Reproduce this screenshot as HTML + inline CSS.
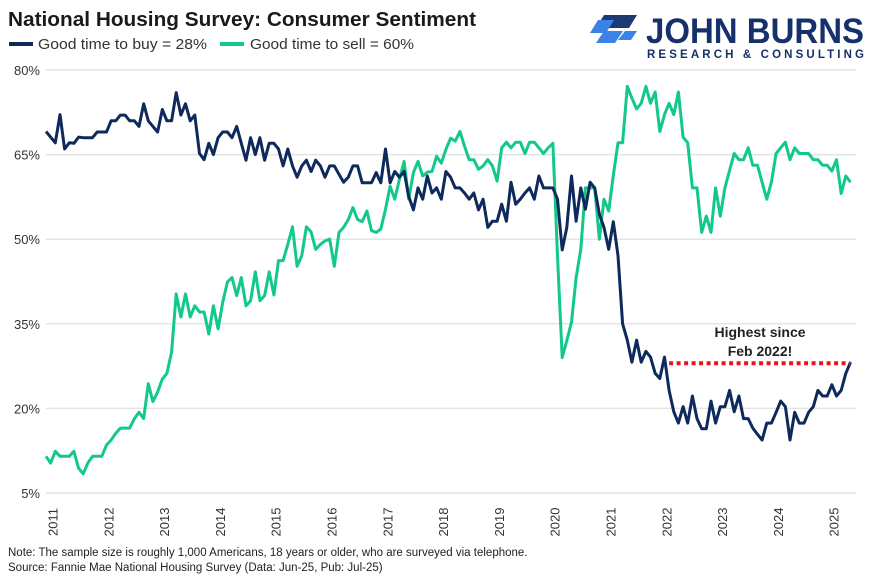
<!DOCTYPE html>
<html><head><meta charset="utf-8"><style>
body{margin:0;background:#fff;font-family:"Liberation Sans",Arial,sans-serif;}
#wrap{position:relative;width:877px;height:583px;overflow:hidden;}
</style></head><body>
<div id="wrap">
<svg id="chart" width="877" height="583" xmlns="http://www.w3.org/2000/svg">
<text x="8" y="26" font-size="20" font-weight="bold" fill="#1a1a1a" textLength="468" lengthAdjust="spacingAndGlyphs">National Housing Survey: Consumer Sentiment</text>
<g>
<g><line x1="9" y1="44" x2="33" y2="44" stroke="#0e2a5c" stroke-width="4"/><text x="38" y="49" font-size="14.5" fill="#333" textLength="169" lengthAdjust="spacingAndGlyphs">Good time to buy = 28%</text></g>
<g><line x1="220" y1="44" x2="244" y2="44" stroke="#12c98a" stroke-width="4"/><text x="250" y="49" font-size="14.5" fill="#333" textLength="164" lengthAdjust="spacingAndGlyphs">Good time to sell = 60%</text></g>
</g>
<g>
<polygon points="604,15 637,15 629,28 596,28" fill="#1d3a73"/>
<polygon points="604,31 623,31 615,43 596,43" fill="#3b82e6"/>
<polygon points="625,31 637,31 631,40 618,40" fill="#3b82e6"/>
<polygon points="598,20 614,20 606,33 590,33" fill="#3b82e6"/>
<text x="646" y="43" font-size="35" font-weight="bold" fill="#15306a" textLength="218" lengthAdjust="spacingAndGlyphs">JOHN BURNS</text>
<text x="647" y="58" font-size="11.5" font-weight="bold" fill="#15306a" textLength="217" lengthAdjust="spacing">RESEARCH &amp; CONSULTING</text>
</g>
<g id="grid"></g>
<g id="yticks"></g>
<g id="xticks"></g>
<g id="series"></g>
<g>
<text x="760" y="337" font-size="14" font-weight="bold" fill="#222" text-anchor="middle">Highest since</text>
<text x="760" y="356" font-size="14" font-weight="bold" fill="#222" text-anchor="middle">Feb 2022!</text>
</g>
<text x="8" y="556" font-size="11.5" fill="#222">Note: The sample size is roughly 1,000 Americans, 18 years or older, who are surveyed via telephone.</text>
<text x="8" y="571" font-size="11.5" fill="#222">Source: Fannie Mae National Housing Survey (Data: Jun-25, Pub: Jul-25)</text>
</svg>
</div>
<script>
const yTicks=[80,65,50,35,20,5];
const yearLabels=["2011","2012","2013","2014","2015","2016","2017","2018","2019","2020","2021","2022","2023","2024","2025"];
const buyValues=[69.1,68.1,67.1,72.1,66,67.1,67,68.1,68,68,68,69,69,69,71,71,72,72,71,71,70,74,71,70,69,73,71,71,76,72,74,71,72,65.2,64.1,67,65,68,69,69,68,70,67,64,68,65,68,64,67,67,66,63,66,63,61,63,64,62,64,63,
61,63,63,61.5,60.1,61,63,63,60,60,60,61.8,60,66,60,62,61,62,57.6,55.2,59.1,57.1,61.2,58.2,59.1,57.1,62,61,59.1,59.1,58.2,57.1,58.2,55.2,57.1,52.1,53.2,53.2,56.2,53.2,60.1,56.2,57.1,58.2,59.1,57.1,61.2,59.1,59.1,59.1,57.1,48.1,52.1,
61.2,53.2,59.1,55.3,60.1,59.1,54.4,52.1,48.2,53.1,47.1,35,32.1,28.2,32.1,28.2,30.1,29.1,26.2,25.3,29.1,23.2,19.4,17.4,20.3,17.4,22.2,18.2,16.4,16.4,21.3,17.4,20.3,20.3,23.2,19.4,22.2,18.2,18.2,16.5,15.4,14.4,17.4,17.4,19.3,21.3,20.3,14.4,19.3,17.4,17.4,19.3,20.3,23.2,22.2,22.2,24.2,22.2,23.2,26.2,28.2];
const sellValues=[11.5,10.3,12.4,11.5,11.5,11.5,12.4,9.4,8.4,10.3,11.5,11.5,11.5,13.5,14.4,15.6,16.5,16.5,16.5,18.2,19.3,18.2,24.4,21.2,22.9,25.2,26.2,30,40.3,36.2,40.3,36.2,38.2,37.1,37.1,33.2,38.2,34.1,38.8,42.4,43.2,40,43.2,38.2,39.1,44.2,39.1,40,44.2,40.1,46.2,46.2,49.1,52.2,45.2,47.1,52.2,51.3,48.2,49.1,
49.7,50,45.2,51.2,52.1,53.5,55.6,53.5,53.1,55,51.5,51.2,51.8,55.3,59.4,57.1,60.6,63.8,57.1,61.8,63.8,61.2,61.9,62,64.7,63.5,65.9,67.9,67.4,69.1,66.5,64.1,64.1,62.4,63,64.1,63,60.3,66.2,67.2,66.2,67.2,67.2,65.2,67.2,67.2,66.2,65.2,66.2,67,47,29,32,
35.3,43.2,48.2,59.1,59.1,59.1,50,57.1,55,61.3,67.1,67.1,77.1,75,73.1,74.1,77.1,74.1,76.1,69.1,72.1,74.1,72.1,76.1,68.1,67.1,59.1,59.1,51.2,54.1,51.2,59.1,54.1,59.1,62.2,65.2,64.1,64.1,66.2,63.1,63.1,60.1,57.1,60.1,65.2,66.2,67.2,64.1,66.2,65.2,65.2,65.2,64.1,64.1,63.1,63.1,62.1,64.1,58.1,61.2,60.1];
const refLevel=28;const refStartMonth=134;

const NS="http://www.w3.org/2000/svg";
const X0=46,DX=4.65,Y80=70,PX=84.6/15;
function xs(m){return X0+m*DX;}
function ys(v){return Y80+(80-v)*PX;}
function mk(t,a,p){const e=document.createElementNS(NS,t);for(const k in a)e.setAttribute(k,a[k]);p.appendChild(e);return e;}
const grid=document.getElementById('grid'),yt=document.getElementById('yticks'),xt=document.getElementById('xticks'),ser=document.getElementById('series');
yTicks.forEach(v=>{
 const l=mk('line',{x1:46,x2:856,y1:ys(v),y2:ys(v),stroke:'#e4e4e4','stroke-width':1.5},grid);
 
 
 const t=mk('text',{x:40,y:ys(v)+5,'font-size':13,fill:'#333','text-anchor':'end'},yt);
 t.textContent=v+'%';
 
 
});
yearLabels.forEach((y,i)=>{
 const cx=xs(i*12)+7,cy=522;
 const t=mk('text',{x:cx,y:cy,'font-size':13,fill:'#333','text-anchor':'middle',transform:`rotate(-90 ${cx} ${cy}) translate(0 4.5)`},xt);
 t.textContent=y;
 
 
});
function path(vals,color,name){
 const d=vals.map((v,i)=>(i?'L':'M')+xs(i).toFixed(1)+' '+ys(v).toFixed(1)).join(' ');
 const p=mk('path',{d:d,fill:'none',stroke:color,'stroke-width':3,'stroke-linejoin':'round'},ser);
 
 
}
path(sellValues,'#12c98a','sell-line');
path(buyValues,'#0e2a5c','buy-line');
const r=mk('line',{x1:xs(refStartMonth),x2:xs(buyValues.length-1),y1:ys(refLevel),y2:ys(refLevel),stroke:'#e8141b','stroke-width':4,'stroke-dasharray':'4 3.5'},ser);


</script>
</body></html>
